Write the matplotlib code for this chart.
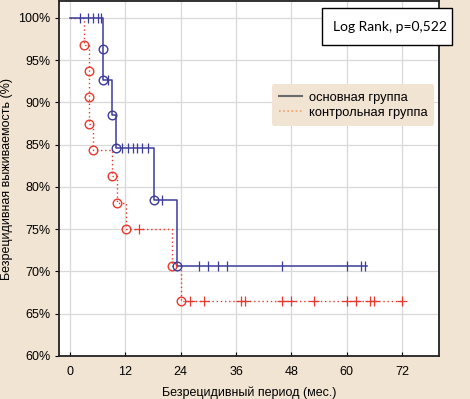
import matplotlib
matplotlib.use("Agg")
import matplotlib.pyplot as plt
from matplotlib.patches import Rectangle
from matplotlib.lines import Line2D

# ---- data ----
main_times = [0, 7.1, 7.1, 9.0, 10.0, 18.1, 23.1, 64.3]
main_surv = [100, 96.3, 92.6, 88.5, 84.6, 78.5, 70.6, 70.6]
main_event_t = [7.1, 7.1, 9.0, 10.0, 18.1, 23.1]
main_event_s = [96.3, 92.6, 88.5, 84.6, 78.5, 70.6]
main_cens_t = [2.2, 3.9, 5.0, 6.1, 6.7, 8.2, 11.2, 12.6, 13.6, 14.6, 15.5, 17.0,
               20.0, 28, 30, 32, 34, 46, 60, 63, 64]
main_cens_s = [100, 100, 100, 100, 100, 92.6, 84.6, 84.6, 84.6, 84.6, 84.6, 84.6,
               78.5, 70.6, 70.6, 70.6, 70.6, 70.6, 70.6, 70.6, 70.6]

ctrl_times = [0, 3.0, 4.1, 4.1, 4.1, 5.0, 9.0, 10.1, 12.1, 22.0, 24.1, 72]
ctrl_surv = [100, 96.8, 93.7, 90.6, 87.5, 84.4, 81.3, 78.1, 75.0, 70.6, 66.5, 66.5]
ctrl_event_t = [3.0, 4.1, 4.1, 4.1, 5.0, 9.0, 10.1, 12.1, 22.0, 24.1]
ctrl_event_s = [96.8, 93.7, 90.6, 87.5, 84.4, 81.3, 78.1, 75.0, 70.6, 66.5]
ctrl_cens_t = [15.0, 26, 29, 37, 38, 46, 48, 53, 60, 62, 65, 66, 72]
ctrl_cens_s = [75.0] + [66.5] * 12

x_ticks = [0, 12, 24, 36, 48, 60, 72]
y_ticks = [60, 65, 70, 75, 80, 85, 90, 95, 100]
y_ticklabels = [f"{v}%" for v in y_ticks]
labels = ["основная группа", "контрольная группа"]

BG = "#f2e4d2"
BLUE = "#3c3c9c"
RED = "#e8392e"

plt.rcParams["font.family"] = ["Liberation Sans", "DejaVu Sans"]

fig = plt.figure(figsize=(4.70, 3.99), dpi=100, facecolor=BG)
ax = fig.add_axes([59 / 470, 1 - 356 / 399, 380 / 470, 355 / 399])
ax.set_facecolor("white")

ax.plot(ctrl_times, ctrl_surv, drawstyle="steps-post", color=RED, lw=1.0,
        ls=(0, (1, 2)), zorder=3)
ax.plot(main_times, main_surv, drawstyle="steps-post", color=BLUE, lw=1.1, zorder=4)

ax.plot(ctrl_event_t, ctrl_event_s, ls="none", marker="o", ms=6.2, mfc="none",
        mec=RED, mew=1.0, zorder=5)
ax.plot(main_event_t, main_event_s, ls="none", marker="o", ms=6.2, mfc="none",
        mec=BLUE, mew=1.0, zorder=6)
ax.plot(ctrl_cens_t, ctrl_cens_s, ls="none", marker="+", ms=6.5, mec=RED, mew=0.9, zorder=5)
ax.plot(main_cens_t, main_cens_s, ls="none", marker="|", ms=6.5, mec=BLUE, mew=0.9, zorder=6)

ax.set_xlim(-2.4, 80)
ax.set_ylim(60, 102)
ax.set_xticks(x_ticks)
ax.set_yticks(y_ticks)
ax.set_yticklabels(y_ticklabels)
ax.grid(True, color="#d9d9d9", lw=0.9)
ax.set_axisbelow(True)
for s in ax.spines.values():
    s.set_linewidth(1.3)
    s.set_color("#222222")
ax.tick_params(axis="x", direction="in", length=3, labelsize=9, pad=7)
ax.tick_params(axis="y", direction="out", length=3, labelsize=9, pad=3)

ax.set_xlabel("Безрецидивный период (мес.)", fontsize=9, labelpad=6)
ax.set_ylabel("Безрецидивная выживаемость (%)", fontsize=9, labelpad=4)

handles = [Line2D([], [], color="#6a6a6a", lw=1.5),
           Line2D([], [], color="#f0a070", lw=1.2, ls=(0, (1, 1.5)))]
leg = ax.legend(handles, labels, loc="upper left", bbox_to_anchor=(0.56, 0.765),
                frameon=True, fontsize=9.3, handlelength=1.8, handletextpad=0.5,
                borderpad=0.55, labelspacing=0.25, borderaxespad=0)
leg.get_frame().set_facecolor(BG)
leg.get_frame().set_edgecolor("none")
leg.get_frame().set_alpha(1)

fig.patches.append(Rectangle((322 / 470, 1 - 45 / 399), 130 / 470, 37 / 399,
                             transform=fig.transFigure, facecolor="white",
                             edgecolor="black", lw=1.0, zorder=10))
fig.text(333 / 470, 1 - 27 / 399, "Log Rank, p=0,522", fontsize=10,
         family=["Lato", "DejaVu Sans"], va="center", ha="left", zorder=11)

fig.savefig("out.png", dpi=100, facecolor=BG)
